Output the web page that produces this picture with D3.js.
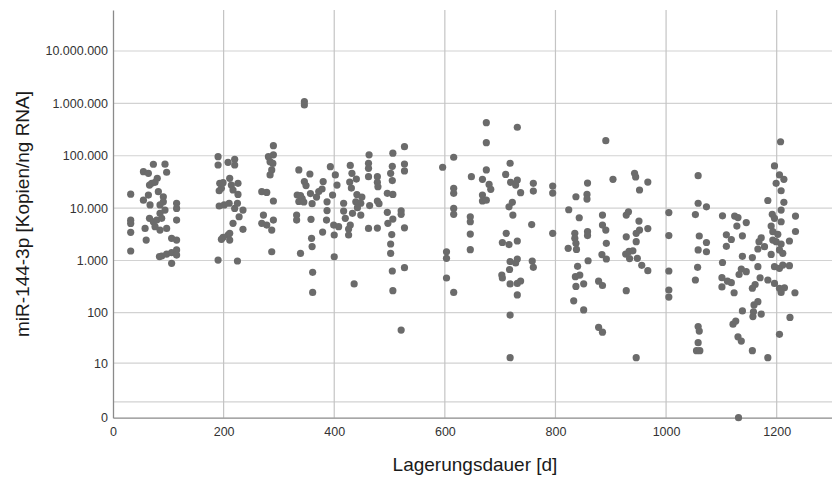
<!DOCTYPE html>
<html>
<head>
<meta charset="utf-8">
<script src="https://cdn.jsdelivr.net/npm/d3@7"></script>
<style>
  body { margin: 0; background: #ffffff; }
  svg { display: block; }
  text { font-family: "Liberation Sans", Arial, sans-serif; }
</style>
</head>
<body>
<svg id="chart" width="832" height="477"></svg>
<script>
// Storage time (days) vs. miR-144-3p copies per ng RNA, one [day, copies] pair per sample,
// grouped by sampling batch.
const batchA = [
  [32,18500],[32,5900],[32,5100],[32,3450],[32,1520],
  [73,68800],[94,69000],[55,49700],[64,46300],[97,48400],[80,37200],[70,29800],[66,27600],
  [76,31100],[82,20600],[64,17800],[55,14200],[67,11500],[91,16500],[91,13200],[85,11500],
  [115,12400],[115,9900],[94,9200],[85,7960],[66,6390],[73,5500],[79,5920],[88,6400],
  [58,4110],[76,4420],[85,3810],[97,4110],[115,5920],[60,2460],[106,2650],[115,2460],
  [84,1190],[88,1220],[97,1330],[106,1410],[115,1590],[115,1270],[106,884]
];
const batchB = [
  [190,96000],[190,66700],[208,75100],[220,85700],[220,66700],[193,29800],[196,23900],
  [192,21500],[199,30600],[211,37100],[214,27600],[226,29800],[217,22200],[226,18300],
  [192,11000],[201,11500],[210,12400],[225,12400],[220,9900],[235,9200],[228,6850],
  [217,5130],[235,3940],[208,3070],[199,2770],[211,3300],[196,2540],[211,2460],
  [190,1020],[225,980]
];
const batchC = [
  [290,156000],[281,96000],[290,104000],[284,77100],[289,71300],[287,53600],[284,43000],
  [269,20600],[278,20000],[290,13700],[272,7380],[269,5130],[278,4760],[290,5920],
  [287,3810],[287,1470]
];
const batchD = [
  [346,1080000],[346,932000],[336,53600],[356,44900],[346,32200],[349,27000],[333,17800],
  [339,17400],[342,15300],[336,13400],[345,13100],[357,19000],[360,12200],[368,16300],
  [372,20700],[380,32200],[378,23200],[393,61900],[402,43000],[405,27600],[397,17800],
  [387,13200],[332,7380],[332,5920],[358,6120],[387,9000],[386,5920],[399,4760],[408,4420],
  [379,3500],[400,3070],[359,2650],[360,1850],[339,1370],[400,1180],[361,595],[361,245],
  [417,12400],[417,8800],[420,6390],[429,65300],[432,46300],[428,31500],[440,35900],
  [431,24200],[441,18200],[450,16300],[439,13200],[448,12400],[442,10200],[433,7960],
  [448,7380],[429,4760],[426,3990],[426,3070],[436,356],[463,104000],[462,71900],
  [462,57700],[462,39900],[478,39900],[478,31100],[479,25600],[464,11200],[478,13700],
  [481,12200],[462,4110],[478,4170],[506,112000],[505,63000],[502,46300],[505,33600],
  [496,19200],[506,18300],[496,8310],[506,6190],[497,5130],[504,3130],[502,2070],
  [502,1370],[505,630],[506,265],[527,149000],[527,69700],[527,51300],[521,8920],
  [521,7610],[527,4220],[527,730],[521,46]
];
const batchE = [
  [596,60300],[616,93600],[616,23900],[616,19200],[616,9900],[616,7610],[603,1470],
  [603,1100],[603,463],[616,245],[648,39900],[646,6850],[646,5500],[646,3200],[646,1610],
  [675,428000],[675,178000],[675,53600],[668,35500],[680,28400],[683,22900],[668,17800],
  [668,13700],[675,14200],[710,44000],[718,71900],[719,31100],[731,34400],[728,27600],
  [737,19700],[731,350000],[722,12900],[716,10600],[723,7380],[757,4860],[760,29800],
  [760,21200],[795,26400],[795,19400],[795,3300],[711,3300],[704,2210],[716,2020],
  [731,2360],[718,957],[731,1070],[728,896],[758,980],[760,742],[703,528],[704,463],
  [717,673],[718,356],[731,364],[737,406],[731,220],[718,90],[718,13]
];
const batchF = [
  [891,194000],[904,35500],[943,46300],[945,39400],[967,31500],[952,22200],[858,30100],
  [837,16500],[857,18300],[857,14900],[824,9320],[843,6560],[885,7380],[885,4760],
  [891,3810],[892,2130],[928,7380],[932,8540],[951,5670],[967,4080],[952,3810],[946,3300],
  [928,2840],[946,2290],[835,3300],[835,2650],[837,2130],[838,1630],[823,1710],[858,3550],
  [858,3000],[859,990],[884,1300],[892,1070],[927,1330],[933,1490],[940,1530],[934,1090],
  [948,1100],[956,810],[967,639],[840,775],[836,490],[844,528],[837,319],[851,359],
  [878,403],[885,333],[928,265],[833,169],[851,113],[878,52],[885,42],[946,13],
  [1005,8240],[1005,3000],[1005,630],[1005,273],[1005,200]
];
const batchG = [
  [1058,41700],[1058,12400],[1073,10600],[1053,7550],[1060,2940],[1073,2210],[1058,1590],
  [1073,1470],[1057,742],[1053,424],[1058,54],[1060,44],[1058,26],[1055,18],[1061,18],
  [1102,7130],[1124,7060],[1130,6620],[1128,4550],[1145,5310],[1109,3090],[1118,2520],
  [1109,1870],[1138,2960],[1102,916],[1138,1200],[1156,1140],[1136,688],[1145,611],
  [1132,540],[1101,470],[1111,403],[1118,377],[1101,312],[1123,242],[1138,108],[1121,60],
  [1126,69],[1130,34],[1136,28],[1156,18],
  [1166,761],[1170,468],[1161,348],[1156,295],[1166,163],[1159,141],[1158,104],[1157,84],
  [1172,94],[1184,13],[1184,424],[1196,364],[1205,295],[1214,300],[1208,245],[1233,242],
  [1205,38],[1224,81],[1172,2720],[1168,2290],[1178,1840],[1166,1660],[1192,7610],
  [1196,6390],[1208,5500],[1190,4550],[1193,3550],[1193,2460],[1202,3160],[1199,2290],
  [1208,2070],[1205,1590],[1211,1370],[1190,1310],[1223,2360],[1234,3580],[1196,761],
  [1205,710],[1211,820],[1223,796],[1196,63900],[1205,43000],[1213,35500],[1199,29800],
  [1208,21500],[1184,14000],[1213,12900],[1208,9200],[1207,185000],[1131,0],[1234,7060]
];

const xTicks = [0, 200, 400, 600, 800, 1000, 1200];
const yTicks = [0, 10, 100, 1000, 10000, 100000, 1000000, 10000000];
const yTickLabels = ["0", "10", "100", "1.000", "10.000", "100.000", "1.000.000", "10.000.000"];
const yGridValues = [1, 10, 100, 1000, 10000, 100000, 1000000, 10000000];
const xTitle = "Lagerungsdauer [d]";
const yTitle = "miR-144-3p [Kopien/ng RNA]";

const samples = [].concat(batchA, batchB, batchC, batchD, batchE, batchF, batchG);

const svg = d3.select("#chart");
const plotLeft = 113, plotRight = 832, plotTop = 10, plotBottom = 417.7;

const x = d3.scaleLinear().domain([0, 1300]).range([plotLeft, plotRight]);
// safe-log axis: log(1 + value), so that zero can be shown
const y = d3.scaleSymlog().constant(1).domain([0, 6.06e7]).range([plotBottom, plotTop]);

const grid = svg.append("g").attr("class", "grid");
grid.selectAll("line.h").data(yGridValues).join("line")
  .attr("class", "h")
  .attr("x1", plotLeft).attr("x2", plotRight)
  .attr("y1", d => y(d)).attr("y2", d => y(d))
  .attr("stroke", "#d2d2d2").attr("stroke-width", 1.2);
grid.selectAll("line.v").data(xTicks.filter(d => d > 0)).join("line")
  .attr("class", "v")
  .attr("x1", d => x(d)).attr("x2", d => x(d))
  .attr("y1", plotTop).attr("y2", plotBottom)
  .attr("stroke", "#c4c4c4").attr("stroke-width", 1.2);

const xAxis = svg.append("g")
  .attr("transform", `translate(0,${plotBottom})`)
  .call(d3.axisBottom(x).tickValues(xTicks).tickFormat(d3.format("d")).tickSize(0).tickPadding(9));
const yAxis = svg.append("g")
  .attr("transform", `translate(${plotLeft},0)`)
  .call(d3.axisLeft(y).tickValues(yTicks).tickFormat((d, i) => yTickLabels[i]).tickSize(0).tickPadding(5));

[xAxis, yAxis].forEach(a => {
  a.select(".domain").attr("stroke", "#8a8a8a").attr("stroke-width", 1.3);
  a.selectAll("text")
    .attr("font-family", "'Liberation Sans', Arial, sans-serif")
    .attr("font-size", 12.5)
    .attr("fill", "#333333");
});

svg.append("g").selectAll("circle").data(samples).join("circle")
  .attr("cx", d => x(d[0]))
  .attr("cy", d => y(d[1]))
  .attr("r", 3.6)
  .attr("fill", "#6b6b6b");

svg.append("text")
  .attr("x", 475).attr("y", 471)
  .attr("text-anchor", "middle")
  .attr("font-size", 19)
  .attr("fill", "#1a1a1a")
  .text(xTitle);

svg.append("text")
  .attr("transform", "translate(29,214) rotate(-90)")
  .attr("text-anchor", "middle")
  .attr("font-size", 19)
  .attr("fill", "#1a1a1a")
  .text(yTitle);
</script>
</body>
</html>
